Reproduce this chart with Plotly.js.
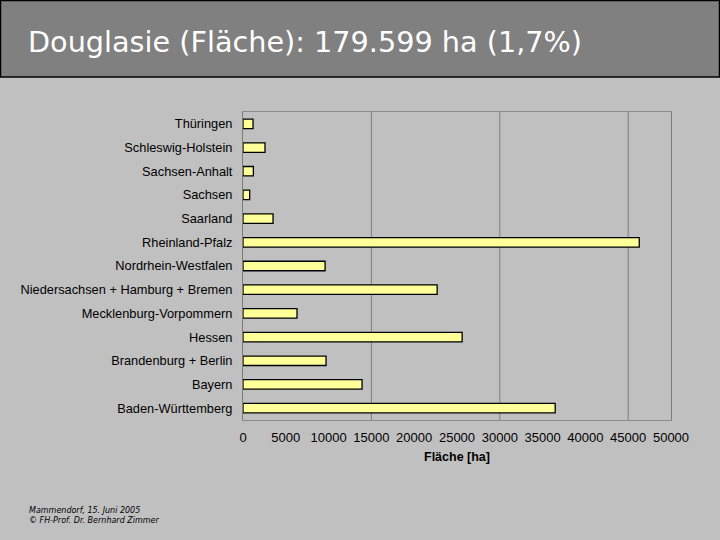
<!DOCTYPE html>
<html>
<head>
<meta charset="utf-8">
<script src="https://cdn.plot.ly/plotly-3.0.1.min.js"></script>
<style>
  html, body { margin: 0; padding: 0; background: #C0C0C0; }
  #chart { width: 720px; height: 540px; }
</style>
</head>
<body>
<div id="chart"></div>
<script>
// Categories listed bottom to top (as drawn)
var categories = [
  "Baden-Württemberg",
  "Bayern",
  "Brandenburg + Berlin",
  "Hessen",
  "Mecklenburg-Vorpommern",
  "Niedersachsen + Hamburg + Bremen",
  "Nordrhein-Westfalen",
  "Rheinland-Pfalz",
  "Saarland",
  "Sachsen",
  "Sachsen-Anhalt",
  "Schleswig-Holstein",
  "Thüringen"
];
// Fläche [ha] per Bundesland
var flaeche = [36470, 13910, 9700, 25600, 6310, 22680, 9590, 46290, 3510, 780, 1210, 2570, 1170];

var xTickValues = [0, 5000, 10000, 15000, 20000, 25000, 30000, 35000, 40000, 45000, 50000];
var gridValues = [15000, 30000, 45000];

var titleText = "Douglasie (Fläche): 179.599 ha (1,7%)";
var xTitle = "Fläche [ha]";
var footerLines = ["Mammendorf, 15. Juni 2005", "© FH-Prof. Dr. Bernhard Zimmer"];

// page geometry helpers (pixels -> paper fractions)
var W = 720, H = 540;
var mL = 243, mR = 49, mT = 112, mB = 120;
var pw = W - mL - mR, ph = H - mT - mB;
function px(x) { return (x - mL) / pw; }
function py(y) { return (H - mB - y) / ph; }

var shapes = gridValues.map(function (v) {
  return {
    type: "line", xref: "x", yref: "paper",
    x0: v, x1: v, y0: 0, y1: 1,
    line: { color: "#7f7f7f", width: 1 }, layer: "below"
  };
});
// header band
shapes.push({
  type: "rect", xref: "paper", yref: "paper",
  x0: px(0.5), x1: px(719.5), y0: py(77), y1: py(0.5),
  fillcolor: "#808080", line: { color: "#000000", width: 1.5 }, layer: "below"
});

var annotations = [
  {
    text: titleText, xref: "paper", yref: "paper",
    x: px(26), y: py(42), xanchor: "left", yanchor: "middle",
    showarrow: false,
    font: { family: "DejaVu Sans", size: 28.7, color: "#ffffff" }
  },
  {
    text: footerLines[0], xref: "paper", yref: "paper",
    x: px(27), y: py(510), xanchor: "left", yanchor: "middle",
    showarrow: false,
    font: { family: "DejaVu Sans", size: 8, color: "#000000", style: "italic" }
  },
  {
    text: footerLines[1], xref: "paper", yref: "paper",
    x: px(27), y: py(520.5), xanchor: "left", yanchor: "middle",
    showarrow: false,
    font: { family: "DejaVu Sans", size: 8, color: "#000000", style: "italic" }
  }
];

var trace = {
  type: "bar",
  orientation: "h",
  x: flaeche,
  y: categories,
  marker: { color: "#FFFF99", line: { color: "#000000", width: 1.3 } },
  hoverinfo: "x+y"
};

var layout = {
  width: W, height: H,
  margin: { l: mL, r: mR, t: mT, b: mB, pad: 0 },
  paper_bgcolor: "#C0C0C0",
  plot_bgcolor: "#C0C0C0",
  showlegend: false,
  bargap: 0.6,
  font: { family: "Liberation Sans, Arial", size: 12.8, color: "#000000" },
  xaxis: {
    range: [0, 50000],
    tickvals: xTickValues,
    ticktext: xTickValues.map(String),
    showgrid: false,
    zeroline: false,
    showline: true, mirror: true, linecolor: "#8a8a8a", linewidth: 1,
    ticks: "outside", ticklen: 5, tickcolor: "rgba(0,0,0,0)",
    tickfont: { family: "Liberation Sans, Arial", size: 13, color: "#000000" },
    title: { text: xTitle, font: { family: "Liberation Sans, Arial", size: 12.5, color: "#000000", weight: "bold" }, standoff: 8 },
    fixedrange: true
  },
  yaxis: {
    type: "category",
    showgrid: false,
    zeroline: false,
    showline: true, mirror: true, linecolor: "#7a7a7a", linewidth: 1,
    ticks: "", ticklabelstandoff: 7,
    tickfont: { family: "Liberation Sans, Arial", size: 12.8, color: "#000000" },
    fixedrange: true
  },
  shapes: shapes,
  annotations: annotations
};

Plotly.newPlot("chart", [trace], layout, { displayModeBar: false, staticPlot: true });
</script>
</body>
</html>
